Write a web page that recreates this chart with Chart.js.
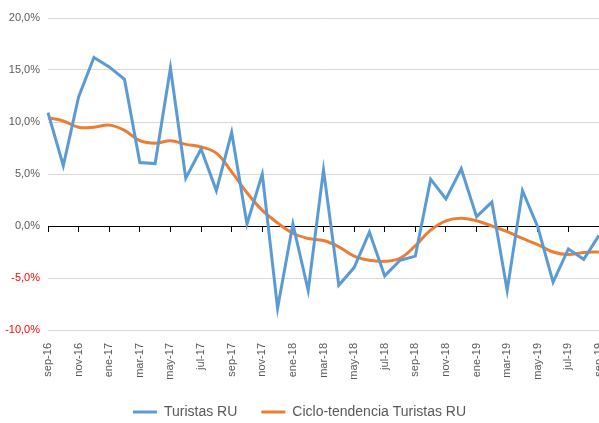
<!DOCTYPE html>
<html>
<head>
<meta charset="utf-8">
<script src="https://cdn.jsdelivr.net/npm/chart.js@4"></script>
<style>
    html, body { margin: 0; padding: 0; background: #fff; }
    #wrap { width: 599px; height: 423px; }
</style>
</head>
<body>
<div id="wrap"><canvas id="turistasChart"></canvas></div>
<script>
var months = [
    'sep-16', 'oct-16', 'nov-16', 'dic-16', 'ene-17', 'feb-17', 'mar-17', 'abr-17', 'may-17', 'jun-17',
    'jul-17', 'ago-17', 'sep-17', 'oct-17', 'nov-17', 'dic-17', 'ene-18', 'feb-18', 'mar-18', 'abr-18',
    'may-18', 'jun-18', 'jul-18', 'ago-18', 'sep-18', 'oct-18', 'nov-18', 'dic-18', 'ene-19', 'feb-19',
    'mar-19', 'abr-19', 'may-19', 'jun-19', 'jul-19', 'ago-19', 'sep-19'
];

// tasa de variacion (%)
var turistas = [
    10.9, 5.8, 12.4, 16.2, 15.3, 14.1, 6.1, 6.0, 15.2, 4.6,
    7.4, 3.4, 9.0, 0.2, 5.0, -7.9, 0.2, -6.2, 5.4, -5.7,
    -4.0, -0.6, -4.8, -3.3, -2.9, 4.5, 2.6, 5.5, 0.9, 2.3,
    -6.2, 3.4, -0.1, -5.4, -2.2, -3.2, -0.9
];

var cicloTendencia = [
    10.4, 10.1, 9.5, 9.5, 9.7, 9.2, 8.2, 7.95, 8.2, 7.85,
    7.6, 7.0, 5.2, 3.2, 1.5, 0.3, -0.7, -1.2, -1.4, -2.0,
    -2.9, -3.3, -3.4, -3.1, -1.9, -0.4, 0.5, 0.75, 0.5, 0.0,
    -0.55, -1.2, -1.8, -2.5, -2.75, -2.55, -2.5
];

var yTicks = [-10, -5, 0, 5, 10, 15, 20];

var grey = '#595959';
var font = "'Liberation Sans', Arial, sans-serif";

function fmtPct(v) {
    return v.toFixed(1).replace('.', ',') + '%';
}

// legend: keep item spacing wide without a tall box
var legendHeight = {
    id: 'legendHeight',
    afterInit: function(chart) {
        var fit = chart.legend.fit;
        chart.legend.fit = function() {
            fit.call(this);
            this.height = 42;
        };
    }
};

var ctx = document.getElementById('turistasChart').getContext('2d');

window.myChart = new Chart(ctx, {
    type: 'line',
    data: {
        labels: months,
        datasets: [{
            label: 'Turistas RU',
            data: turistas,
            borderColor: '#5B9BD5',
            backgroundColor: '#5B9BD5',
            borderWidth: 3,
            pointRadius: 0,
            tension: 0
        }, {
            label: 'Ciclo-tendencia Turistas RU',
            data: cicloTendencia,
            borderColor: '#ED7D31',
            backgroundColor: '#ED7D31',
            borderWidth: 3,
            pointRadius: 0,
            tension: 0.4
        }]
    },
    plugins: [legendHeight],
    options: {
        responsive: true,
        maintainAspectRatio: false,
        animation: false,
        layout: {
            padding: { top: 18, right: 0, bottom: 0, left: 0 }
        },
        plugins: {
            legend: {
                position: 'bottom',
                labels: {
                    color: grey,
                    font: { family: font, size: 14 },
                    usePointStyle: true,
                    pointStyle: 'line',
                    pointStyleWidth: 24,
                    padding: 24
                }
            },
            tooltip: { enabled: false }
        },
        scales: {
            y: {
                min: -10,
                max: 20,
                afterBuildTicks: function(scale) {
                    scale.ticks = yTicks.map(function(v) { return { value: v }; });
                },
                afterFit: function(scale) {
                    scale.width = 48;
                },
                border: { display: false },
                grid: {
                    color: '#d9d9d9',
                    drawTicks: false
                },
                ticks: {
                    padding: 8,
                    font: { family: font, size: 11 },
                    color: function(c) {
                        return c.tick.value < 0 ? '#FF0000' : grey;
                    },
                    callback: function(v) { return fmtPct(v); }
                }
            },
            x: {
                offset: false,
                afterFit: function(scale) {
                    scale.height = 51;
                    scale.paddingRight = 0;
                    scale.paddingLeft = 0;
                },
                border: { display: false },
                grid: { display: false },
                ticks: {
                    autoSkip: false,
                    maxRotation: 90,
                    minRotation: 90,
                    padding: 5,
                    color: grey,
                    font: { family: font, size: 11 },
                    callback: function(v, i) {
                        return i % 2 === 0 ? months[i] : '';
                    }
                }
            },
            // eje de categorias dibujado en el 0
            x0: {
                type: 'category',
                position: { y: 0 },
                offset: false,
                border: { display: true, color: '#000', width: 1 },
                grid: {
                    drawOnChartArea: false,
                    drawTicks: true,
                    tickLength: 5,
                    color: function(c) {
                        return c.index % 2 === 0 ? '#000' : 'rgba(0,0,0,0)';
                    }
                },
                ticks: { display: false, autoSkip: false }
            }
        }
    }
});
</script>
</body>
</html>
